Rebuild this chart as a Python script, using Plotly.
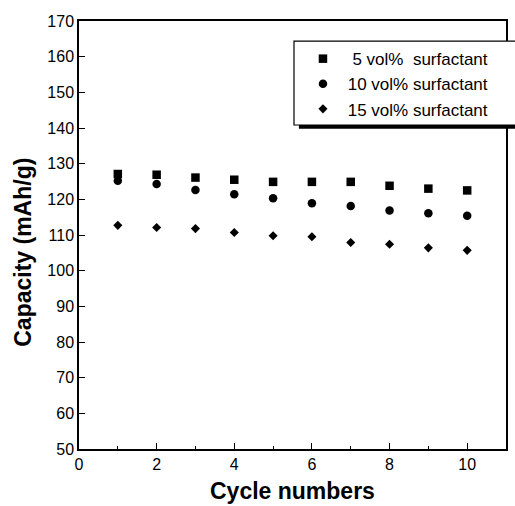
import plotly.graph_objects as go

cycles = [1, 2, 3, 4, 5, 6, 7, 8, 9, 10]
cap_5 = [127.1, 126.9, 126.1, 125.5, 124.9, 124.9, 124.9, 123.8, 123.0, 122.5]
cap_10 = [125.2, 124.3, 122.6, 121.4, 120.3, 118.9, 118.1, 116.9, 116.1, 115.4]
cap_15 = [112.7, 112.1, 111.8, 110.7, 109.8, 109.5, 107.9, 107.4, 106.4, 105.7]

names = ["\u00a0\u00a05 vol%\u00a0\u00a0surfactant", "\u00a010 vol% surfactant", "\u00a015 vol% surfactant"]
symbols = ["square", "circle", "diamond"]
sizes = [8.5, 8.5, 7]
x_ticks = [0, 2, 4, 6, 8, 10]
x_minor = [1, 3, 5, 7, 9]
y_ticks = list(range(50, 171, 10))

FONT = "Arial, Liberation Sans, sans-serif"

fig = go.Figure()
for ys, nm, sym, sz in zip([cap_5, cap_10, cap_15], names, symbols, sizes):
    fig.add_trace(go.Scatter(
        x=cycles, y=ys, mode="markers", name=nm,
        marker=dict(symbol=sym, size=sz, color="black", line=dict(width=0)),
    ))

# legend box with shadow
fig.add_shape(type="rect", xref="paper", yref="paper",
              x0=0.515, x1=1.05, y0=0.748, y1=0.944,
              fillcolor="black", line=dict(width=0), layer="above")
fig.add_shape(type="rect", xref="paper", yref="paper",
              x0=0.5035, x1=1.04, y0=0.757, y1=0.953,
              fillcolor="white", line=dict(color="black", width=1.2), layer="above")

# axis titles
fig.add_annotation(text="<b>Cycle numbers</b>", xref="paper", yref="paper",
                   x=0.5, y=-0.098, xanchor="center", yanchor="middle",
                   showarrow=False, font=dict(family=FONT, size=23, color="black"))
fig.add_annotation(text="<b>Capacity (mAh/g)</b>", xref="paper", yref="paper",
                   x=-0.132, y=0.46, xanchor="center", yanchor="middle",
                   textangle=-90, showarrow=False,
                   font=dict(family=FONT, size=23, color="black"))

fig.update_layout(
    width=515, height=506,
    margin=dict(l=79, r=7, t=21, b=57),
    paper_bgcolor="white", plot_bgcolor="white",
    font=dict(family=FONT, color="black", size=16),
    showlegend=True,
    legend=dict(x=0.5245, y=0.953, xanchor="left", yanchor="top",
                bgcolor="rgba(0,0,0,0)", borderwidth=0,
                font=dict(family=FONT, size=17, color="black"),
                itemsizing="trace"),
    xaxis=dict(range=[0, 11], tickvals=x_ticks, ticks="inside", ticklen=6,
               tickwidth=1.2, tickcolor="black",
               minor=dict(tickvals=x_minor, ticks="inside", ticklen=3,
                          tickwidth=1, tickcolor="black"),
               showline=True, linecolor="black", linewidth=1.5, mirror=True,
               showgrid=False, zeroline=False,
               tickfont=dict(family=FONT, size=16, color="black")),
    yaxis=dict(range=[50, 170], tickvals=y_ticks, ticks="inside", ticklen=6,
               tickwidth=1.2, tickcolor="black",
               showline=True, linecolor="black", linewidth=1.5, mirror=True,
               showgrid=False, zeroline=False,
               tickfont=dict(family=FONT, size=16, color="black")),
)

fig.write_html("out.html")
